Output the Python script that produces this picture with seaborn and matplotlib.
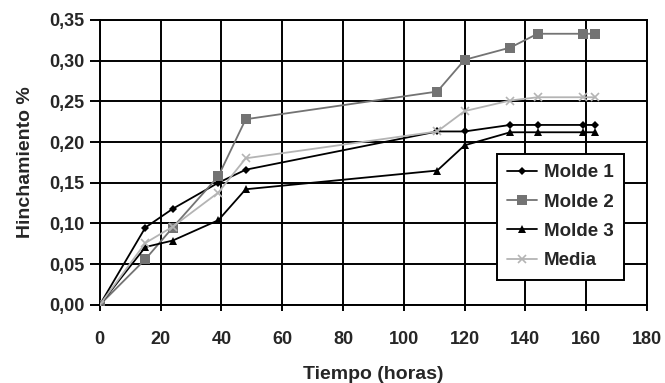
import matplotlib
matplotlib.use("Agg")
import matplotlib.pyplot as plt
import seaborn as sns
import pandas as pd
from matplotlib.ticker import FuncFormatter, MultipleLocator

tiempo = [0, 15, 24, 39, 48, 111, 120, 135, 144, 159, 163]
molde1 = [0.000, 0.095, 0.118, 0.150, 0.166, 0.213, 0.213, 0.221, 0.221, 0.221, 0.221]
molde2 = [0.000, 0.056, 0.095, 0.158, 0.228, 0.262, 0.301, 0.316, 0.333, 0.333, 0.333]
molde3 = [0.000, 0.071, 0.079, 0.104, 0.142, 0.165, 0.196, 0.212, 0.212, 0.212, 0.212]
media  = [0.000, 0.076, 0.096, 0.138, 0.180, 0.213, 0.238, 0.251, 0.255, 0.255, 0.255]
series_names = ["Molde 1", "Molde 2", "Molde 3", "Media"]

sns.set_theme(style="white")
plt.rcParams['font.family'] = ['Liberation Sans', 'DejaVu Sans']
plt.rcParams['font.weight'] = 'bold'

rows = []
for name, vals in zip(series_names, [molde1, molde2, molde3, media]):
    for t, v in zip(tiempo, vals):
        rows.append({"Tiempo": t, "Valor": v, "Serie": name})
df = pd.DataFrame(rows)

fig = plt.figure(figsize=(6.65, 3.83), dpi=100)
ax = fig.add_axes([0.150, 0.204, 0.823, 0.744])

palette = {"Molde 1": "#000000", "Molde 2": "#737373", "Molde 3": "#000000", "Media": "#b4b4b4"}
markers = {"Molde 1": "D", "Molde 2": "s", "Molde 3": "^", "Media": "x"}
sizes = {"Molde 1": 4, "Molde 2": 7, "Molde 3": 5.5, "Media": 6}

for name in series_names:
    sub = df[df["Serie"] == name]
    sns.lineplot(data=sub, x="Tiempo", y="Valor", ax=ax, color=palette[name],
                 marker=markers[name], markersize=sizes[name], linewidth=1.3,
                 markeredgewidth=1.2 if name == "Media" else 0,
                 markeredgecolor=palette[name], label=name, zorder=3)

ax.set_xlim(0, 180)
ax.set_ylim(0, 0.35)
ax.xaxis.set_major_locator(MultipleLocator(20))
ax.yaxis.set_major_locator(MultipleLocator(0.05))
ax.yaxis.set_major_formatter(FuncFormatter(lambda v, p: f"{v:.2f}".replace(".", ",")))
ax.grid(True, color="black", linewidth=1.4)
ax.set_axisbelow(True)
for s in ax.spines.values():
    s.set_color("black")
    s.set_linewidth(1.4)
ax.tick_params(axis="x", which="both", labelsize=13, length=4.5, width=1.4, color="black",
               direction="out", bottom=True, pad=14)
ax.tick_params(axis="y", which="both", labelsize=13, length=7, width=1.4, color="black",
               direction="out", left=True, pad=4)
for lbl in ax.get_xticklabels() + ax.get_yticklabels():
    lbl.set_fontweight("bold")
ax.set_xlabel("Tiempo (horas)", fontsize=14, fontweight="bold", labelpad=13)
ax.set_ylabel("Hinchamiento %", fontsize=14, fontweight="bold", labelpad=11)

leg = ax.legend(loc="upper left", bbox_to_anchor=(0.726, 0.530), frameon=True, fancybox=False,
                shadow=False, fontsize=13.5, handlelength=1.6, borderpad=0.55, labelspacing=0.65,
                handletextpad=0.36, borderaxespad=0)
leg.get_frame().set_edgecolor("black")
leg.get_frame().set_linewidth(1.4)
leg.get_frame().set_alpha(1)
for t in leg.get_texts():
    t.set_fontweight("bold")

fig.savefig("out.png", dpi=100)
